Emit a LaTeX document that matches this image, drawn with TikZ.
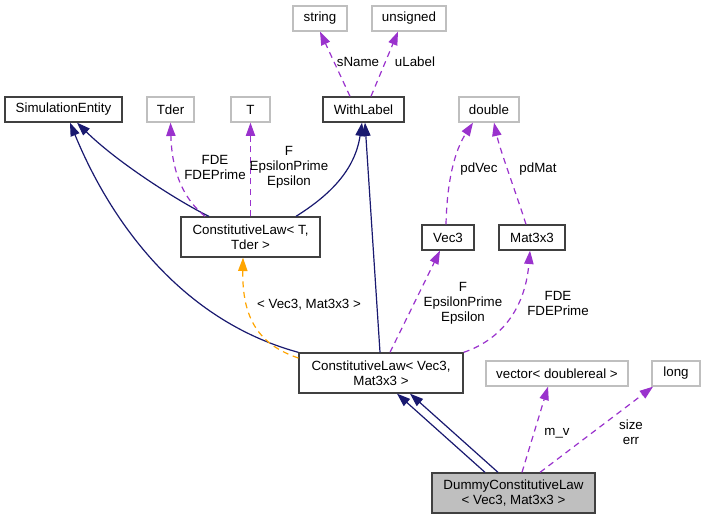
\documentclass[tikz,border=0pt]{standalone}
\usepackage{fontspec}
\setmainfont{Liberation Sans}
\usetikzlibrary{arrows.meta,calc}
\definecolor{navy}{HTML}{191970}
\definecolor{purp}{HTML}{9A32CD}
\definecolor{orng}{HTML}{FFA500}
\definecolor{gborder}{HTML}{BFBFBF}
\definecolor{dfill}{HTML}{BFBFBF}
\tikzset{
  basebox/.style={rectangle, inner sep=0pt, align=center, font=\fontsize{10}{11.25}\selectfont, line width=1pt, minimum height=18.75pt},
  blackbox/.style={basebox, draw=black!75},
  graybox/.style={basebox, draw=gborder},
  twoline/.style={minimum height=30pt},
  tipstyle/.style={-{Triangle[length=10pt,width=7pt]}},
  inherit/.style={draw=navy, line width=0.9pt, tipstyle},
  usage/.style={draw=purp, line width=0.9pt, dash pattern=on 4.5pt off 3.5pt, tipstyle},
  tmpl/.style={draw=orng, line width=0.9pt, dash pattern=on 4.5pt off 3.5pt, tipstyle},
  lbl/.style={inner sep=0pt, align=center, font=\fontsize{10}{11.25}\selectfont}
}
\begin{document}
\begin{tikzpicture}[x=0.75pt,y=-0.75pt]
\useasboundingbox (0,0) rectangle (705,520);
\fill[white] (0,0) rectangle (705,520);
% nodes
\node[graybox, minimum width=40.5pt] (str) at (320,18.5) {string};
\node[graybox, minimum width=55.5pt] (uns) at (409,18.5) {unsigned};
\node[blackbox, minimum width=87.75pt] (se) at (63.5,109.5) {SimulationEntity};
\node[graybox, minimum width=35.25pt] (tder) at (170.5,109.5) {Tder};
\node[graybox, minimum width=29.25pt] (tt) at (250.5,109.5) {T};
\node[blackbox, minimum width=60.75pt] (wl) at (363.5,109.5) {WithLabel};
\node[graybox, minimum width=45pt] (dbl) at (489,109.5) {double};
\node[blackbox, twoline, minimum width=104.25pt] (cltt) at (250.5,237) {ConstitutiveLaw< T,\\Tder >};
\node[blackbox, minimum width=39pt] (vec) at (448,237.5) {Vec3};
\node[blackbox, minimum width=49.5pt] (mat) at (532,237.5) {Mat3x3};
\node[blackbox, twoline, minimum width=123pt] (cl3) at (381,373) {ConstitutiveLaw< Vec3,\\Mat3x3 >};
\node[graybox, minimum width=106.5pt] (vdr) at (557,373.5) {vector< doublereal >};
\node[graybox, minimum width=36pt] (lng) at (676,373.5) {long};
\node[blackbox, twoline, fill=dfill, minimum width=122.25pt] (dum) at (513.5,493) {DummyConstitutiveLaw\\< Vec3, Mat3x3 >};
% edges
\draw[usage] ($(wl.north)+(-13.5,0)$) -- (str.south);
\draw[usage] ($(wl.north)+(7.5,0)$) -- ($(uns.south)+(-11,0)$);
\draw[inherit] ($(cltt.north)+(-41.5,0)$) .. controls (185,205) and (120,165) .. ($(se.south)+(13.5,0)$);
\draw[inherit] (cl3.north west) .. controls (180,320) and (110,220) .. ($(se.south)+(6.5,0)$);
\draw[usage] ($(cltt.north)+(-45.5,0)$) .. controls (185,200) and (172,175) .. (tder.south);
\draw[usage] (cltt.north) -- (tt.south);
\draw[inherit] ($(cltt.north)+(45.5,0)$) .. controls (330,195) and (355,170) .. ($(wl.south)+(-1.5,0)$);
\draw[inherit] ($(cl3.north)+(-1,0)$) -- ($(wl.south)+(1.5,0)$);
\draw[usage] ($(vec.north)+(-2,0)$) .. controls (447,180) and (455,150) .. ($(dbl.south)+(-16,0)$);
\draw[usage] ($(mat.north)+(-6,0)$) .. controls (515,190) and (500,150) .. ($(dbl.south)+(5,0)$);
\draw[usage] ($(cl3.north)+(9,0)$) -- ($(vec.south)+(-8,0)$);
\draw[usage] (cl3.north east) .. controls (500,340) and (525,310) .. ($(mat.south)+(-2,0)$);
\draw[tmpl] ($(cl3.west)+(0,-15)$) .. controls (260,345) and (242,320) .. ($(cltt.south)+(-7.5,0)$);
\draw[inherit] ($(dum.north)+(-28.5,0)$) -- ($(cl3.south)+(16,0)$);
\draw[inherit] ($(dum.north)+(-15.5,0)$) -- ($(cl3.south)+(29,0)$);
\draw[usage] ($(dum.north)+(8.5,0)$) -- ($(vdr.south)+(-9,0)$);
\draw[usage] ($(dum.north)+(26.5,0)$) -- ($(lng.south)+(-23,0)$);
% labels
\node[lbl] (l1) at (358,62) {sName};
\node[lbl] (l2) at (415,62) {uLabel};
\node[lbl] (l3) at (215,167.5) {FDE\\FDEPrime};
\node[lbl] (l4) at (289,167.5) {F\\EpsilonPrime\\Epsilon};
\node[lbl] (l5) at (479,169) {pdVec};
\node[lbl] (l6) at (538,169) {pdMat};
\node[lbl] (l7) at (463,303.5) {F\\EpsilonPrime\\Epsilon};
\node[lbl] (l8) at (558,303.5) {FDE\\FDEPrime};
\node[lbl] (l9) at (309,305) {< Vec3, Mat3x3 >};
\node[lbl] (l10) at (557,433) {m\_v};
\node[lbl] (l11) at (631,432.5) {size\\err};
\end{tikzpicture}
\end{document}
